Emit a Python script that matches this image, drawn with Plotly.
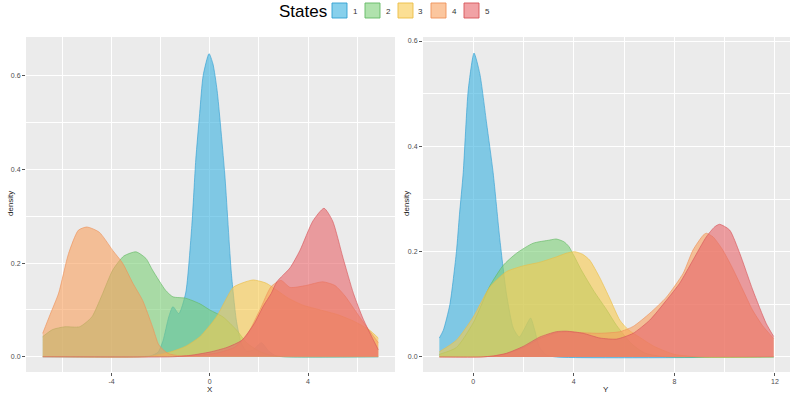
import plotly.graph_objects as go

# ---------------- data ----------------
states = ["1", "2", "3", "4", "5"]

# Left panel: density of X per state
x_left_1 = [-6.8, -3.0, -2.4, -2.1, -1.9, -1.67, -1.5, -1.26, -0.98, -0.73, -0.57, -0.41, -0.27, -0.03, 0.13, 0.3, 0.61, 0.88, 1.09, 1.29, 1.5, 1.75, 2.1, 2.4, 2.7, 3.2, 6.86]
d_left_1 = [0, 0, 0.002, 0.01, 0.035, 0.085, 0.107, 0.092, 0.136, 0.28, 0.42, 0.52, 0.6, 0.647, 0.625, 0.568, 0.39, 0.178, 0.075, 0.028, 0.012, 0.014, 0.03, 0.012, 0.002, 0, 0]

x_left_2 = [-6.8, -6.4, -5.9, -5.3, -4.8, -4.4, -3.95, -3.5, -3.0, -2.6, -2.33, -1.8, -1.5, -0.98, -0.4, 0.0, 0.54, 1.09, 1.5, 2.0, 2.5, 3.0, 6.86]
d_left_2 = [0.043, 0.058, 0.064, 0.064, 0.085, 0.13, 0.185, 0.215, 0.224, 0.21, 0.185, 0.142, 0.128, 0.125, 0.113, 0.1, 0.085, 0.057, 0.03, 0.012, 0.003, 0, 0]

x_left_3 = [-6.8, -2.6, -2.0, -1.5, -1.0, -0.4, 0.27, 0.95, 1.35, 1.77, 2.3, 2.73, 3.2, 3.8, 4.5, 5.2, 5.9, 6.5, 6.86]
d_left_3 = [0, 0, 0.005, 0.012, 0.022, 0.043, 0.085, 0.148, 0.158, 0.164, 0.157, 0.142, 0.125, 0.11, 0.1, 0.09, 0.075, 0.057, 0.04]

x_left_4 = [-6.8, -6.5, -6.15, -5.75, -5.35, -5.0, -4.5, -3.95, -3.55, -3.13, -2.73, -2.33, -2.07, -1.7, -1.2, -0.5, 0.3, 1.0, 1.5, 2.04, 2.5, 2.9, 3.27, 3.9, 4.6, 5.1, 5.5, 5.9, 6.3, 6.86]
d_left_4 = [0.05, 0.09, 0.136, 0.22, 0.27, 0.277, 0.266, 0.227, 0.2, 0.157, 0.12, 0.064, 0.025, 0.007, 0.002, 0.003, 0.008, 0.02, 0.045, 0.1, 0.15, 0.163, 0.148, 0.152, 0.16, 0.152, 0.13, 0.1, 0.07, 0.03]

x_left_5 = [-6.8, -1.5, -0.8, 0.0, 0.7, 1.3, 1.8, 2.2, 2.5, 2.73, 3.27, 3.67, 4.2, 4.65, 5.0, 5.43, 5.85, 6.25, 6.86]
d_left_5 = [0, 0, 0.003, 0.01, 0.02, 0.035, 0.07, 0.11, 0.135, 0.16, 0.19, 0.227, 0.29, 0.317, 0.29, 0.21, 0.135, 0.08, 0.015]

# Right panel: density of Y per state
y_right_1 = [-1.35, -1.19, -0.93, -0.67, -0.55, -0.4, -0.2, 0.03, 0.26, 0.53, 0.79, 1.06, 1.32, 1.59, 1.83, 2.05, 2.28, 2.45, 2.62, 2.9, 3.3, 11.95]
d_right_1 = [0.036, 0.051, 0.1, 0.2, 0.27, 0.35, 0.507, 0.577, 0.538, 0.444, 0.35, 0.222, 0.12, 0.055, 0.038, 0.055, 0.074, 0.05, 0.02, 0.004, 0, 0]

y_right_2 = [-1.35, -0.67, 0.0, 0.66, 1.19, 1.72, 2.38, 3.04, 3.3, 3.6, 3.8, 4.3, 4.8, 5.3, 5.7, 6.3, 6.8, 7.5, 11.95]
d_right_2 = [0.005, 0.018, 0.065, 0.135, 0.174, 0.197, 0.216, 0.222, 0.224, 0.219, 0.21, 0.165, 0.125, 0.09, 0.06, 0.025, 0.008, 0.001, 0]

y_right_3 = [-1.35, -0.67, 0.0, 0.66, 1.32, 1.98, 2.65, 3.3, 3.7, 4.03, 4.35, 4.63, 5.04, 5.44, 5.83, 6.16, 6.6, 7.2, 8.0, 9.0, 11.95]
d_right_3 = [0.01, 0.032, 0.076, 0.133, 0.162, 0.173, 0.18, 0.19, 0.197, 0.2, 0.195, 0.184, 0.15, 0.11, 0.07, 0.052, 0.038, 0.02, 0.005, 0, 0]

y_right_4 = [-1.35, 0.3, 0.8, 1.3, 2.0, 2.65, 3.3, 3.7, 4.37, 5.04, 5.83, 6.36, 7.02, 7.69, 8.35, 8.74, 9.14, 9.27, 9.54, 9.9, 10.3, 10.7, 11.1, 11.5, 11.95]
d_right_4 = [0, 0, 0.002, 0.006, 0.018, 0.035, 0.046, 0.048, 0.046, 0.045, 0.048, 0.058, 0.083, 0.114, 0.159, 0.203, 0.231, 0.235, 0.228, 0.205, 0.17, 0.13, 0.09, 0.06, 0.035]

y_right_5 = [-1.35, 0.3, 0.8, 1.32, 1.98, 2.65, 3.3, 3.7, 4.37, 5.04, 5.7, 6.36, 7.02, 7.69, 8.21, 8.74, 9.27, 9.6, 9.8, 10.2, 10.6, 11.12, 11.65, 11.95]
d_right_5 = [0, 0, 0.002, 0.007, 0.02, 0.038, 0.048, 0.049, 0.045, 0.036, 0.034, 0.045, 0.07, 0.108, 0.14, 0.184, 0.228, 0.247, 0.252, 0.241, 0.197, 0.127, 0.064, 0.039]

left_ticks = [-4, 0, 4]
right_ticks = [0, 4, 8, 12]
y_ticks = [0.0, 0.2, 0.4, 0.6]

# ---------------- styling ----------------
W, H = 794, 394
fill_cols = ["rgba(55,177,224,0.6)", "rgba(123,207,118,0.6)", "rgba(248,202,77,0.6)",
             "rgba(248,160,93,0.6)", "rgba(232,100,105,0.6)"]
line_cols = ["rgba(50,160,210,0.9)", "rgba(100,185,100,0.9)", "rgba(235,190,70,0.9)",
             "rgba(238,145,90,0.9)", "rgba(215,85,90,0.9)"]

left_series = [(x_left_1, d_left_1), (x_left_2, d_left_2), (x_left_3, d_left_3),
               (x_left_4, d_left_4), (x_left_5, d_left_5)]
right_series = [(y_right_1, d_right_1), (y_right_2, d_right_2), (y_right_3, d_right_3),
                (y_right_4, d_right_4), (y_right_5, d_right_5)]

fig = go.Figure()
for i, (xs, ds) in enumerate(left_series):
    fig.add_trace(go.Scatter(x=xs, y=ds, mode="lines", fill="tozeroy",
                             fillcolor=fill_cols[i],
                             line=dict(color=line_cols[i], width=0.7, shape="spline", smoothing=0.6),
                             name=states[i], showlegend=False, xaxis="x", yaxis="y"))
for i, (xs, ds) in enumerate(right_series):
    fig.add_trace(go.Scatter(x=xs, y=ds, mode="lines", fill="tozeroy",
                             fillcolor=fill_cols[i],
                             line=dict(color=line_cols[i], width=0.7, shape="spline", smoothing=0.6),
                             name=states[i], showlegend=False, xaxis="x2", yaxis="y2"))


def px_x(p):
    return p / W


def px_y(p):
    return 1 - p / H


ydom = [px_y(372), px_y(37)]
tickfont = dict(family="Liberation Sans, Arial, sans-serif", size=7, color="#4D4D4D")

common_axis = dict(showline=False, zeroline=False, gridcolor="white", gridwidth=1,
                   ticks="outside", ticklen=3, tickcolor="#555555", tickwidth=0.6,
                   tickfont=tickfont, fixedrange=True, automargin=False)

fig.update_layout(
    width=W, height=H,
    margin=dict(l=0, r=0, t=0, b=0, pad=0, autoexpand=False),
    paper_bgcolor="white",
    plot_bgcolor="#EBEBEB",
    xaxis=dict(domain=[px_x(26), px_x(395)], range=[-7.48, 7.54], anchor="y",
               tickvals=left_ticks, ticktext=[str(v) for v in left_ticks],
               minor=dict(tickvals=[-6, -2, 2, 6], showgrid=True, gridcolor="white",
                          gridwidth=0.5, ticks=""),
               **common_axis),
    yaxis=dict(domain=ydom, range=[-0.0325, 0.6825], anchor="x",
               tickvals=y_ticks, ticktext=["%.1f" % v for v in y_ticks],
               minor=dict(tickvals=[0.1, 0.3, 0.5], showgrid=True, gridcolor="white",
                          gridwidth=0.5, ticks=""),
               **common_axis),
    xaxis2=dict(domain=[px_x(423), px_x(790)], range=[-2.0, 12.6], anchor="y2",
                tickvals=right_ticks, ticktext=[str(v) for v in right_ticks],
                minor=dict(tickvals=[-2, 2, 6, 10], showgrid=True, gridcolor="white",
                           gridwidth=0.5, ticks=""),
                **common_axis),
    yaxis2=dict(domain=ydom, range=[-0.0285, 0.6076], anchor="x2",
                tickvals=y_ticks, ticktext=["%.1f" % v for v in y_ticks],
                minor=dict(tickvals=[0.1, 0.3, 0.5], showgrid=True, gridcolor="white",
                           gridwidth=0.5, ticks=""),
                **common_axis),
)

titlefont = dict(family="Liberation Sans, Arial, sans-serif", size=8, color="#1A1A1A")
annotations = [
    dict(text="X", x=px_x(210), y=px_y(389), xref="paper", yref="paper",
         showarrow=False, font=titlefont, xanchor="center", yanchor="middle"),
    dict(text="Y", x=px_x(606), y=px_y(389), xref="paper", yref="paper",
         showarrow=False, font=titlefont, xanchor="center", yanchor="middle"),
    dict(text="density", x=px_x(10), y=px_y(204), xref="paper", yref="paper",
         showarrow=False, font=titlefont, textangle=-90,
         xanchor="center", yanchor="middle"),
    dict(text="density", x=px_x(406), y=px_y(204), xref="paper", yref="paper",
         showarrow=False, font=titlefont, textangle=-90,
         xanchor="center", yanchor="middle"),
    dict(text="States", x=px_x(277), y=px_y(11), xref="paper", yref="paper",
         showarrow=False, xanchor="left", yanchor="middle",
         font=dict(family="Liberation Sans, Arial, sans-serif", size=17, color="#000000")),
]

shapes = []
key_left = [332, 365, 398, 431, 464]
for i, s in enumerate(states):
    x0 = key_left[i]
    shapes.append(dict(type="rect", xref="paper", yref="paper",
                       x0=px_x(x0), x1=px_x(x0 + 15), y0=px_y(18), y1=px_y(3),
                       fillcolor=fill_cols[i], line=dict(color=line_cols[i], width=1)))
    annotations.append(dict(text=s, x=px_x(x0 + 23), y=px_y(11), xref="paper", yref="paper",
                            showarrow=False, xanchor="center", yanchor="middle",
                            font=dict(family="Liberation Sans, Arial, sans-serif", size=8,
                                      color="#333333")))

fig.update_layout(annotations=annotations, shapes=shapes)

fig.write_html("out.html",
               config={"displayModeBar": False},
               post_script="document.body.style.margin='0px';document.body.style.padding='0px';"
                           "document.documentElement.style.overflow='hidden';")
